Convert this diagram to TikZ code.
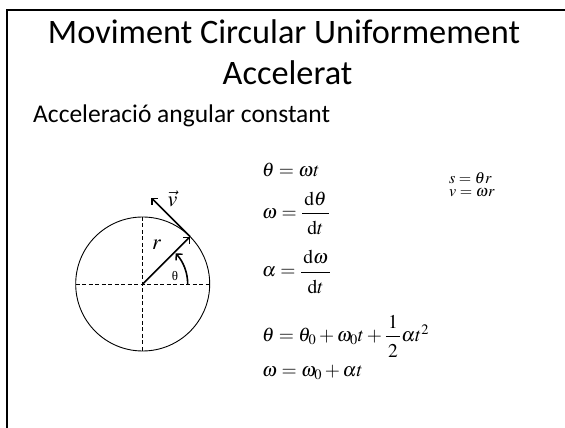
\documentclass[tikz,border=0pt]{standalone}
\usepackage{amsmath}
\usepackage{mathptmx}
\usepackage[no-math]{fontspec}
\setmainfont{Carlito}
\newfontfamily\serifgr{Liberation Serif}
\usetikzlibrary{arrows.meta,calc}
\newcommand{\mtfrac}[2]{\dfrac{\,#1\,}{\,\rule{0pt}{0.95em}#2\,}}
\begin{document}
\begin{tikzpicture}[x=1pt,y=1pt,
  eq/.style={anchor=base west, inner sep=0pt, font=\fontsize{19.5}{22}\selectfont},
  eqsmall/.style={anchor=base west, inner sep=0pt, font=\fontsize{16}{18}\selectfont},
  vecarrow/.style={line width=1.6pt, -{Straight Barb[length=4.5pt,width=9pt,line width=1.4pt]}},
  axisline/.style={line width=0.8pt, dash pattern=on 4pt off 2.5pt}]
\useasboundingbox (0,0) rectangle (565,428);
% frame
\coordinate (fb) at (6.5,0);
\coordinate (fc) at (6.5,418);
\coordinate (fr) at (565,418);
\draw[line width=2pt] (fb) -- (fc) -- (fr);
% titles
\node[anchor=base, inner sep=0pt, font=\fontsize{34.3}{40}\selectfont] (t1) at (284,384.7) {Moviment Circular Uniformement};
\node[anchor=base, inner sep=0pt, font=\fontsize{34.3}{40}\selectfont] (t2) at (287.5,343) {Accelerat};
\node[anchor=base west, inner sep=0pt, font=\fontsize{25.5}{30}\selectfont] (sub) at (33,305.5) {Acceleració angular constant};
% circle
\coordinate (O) at (142.7,144);
\coordinate (L) at (75.7,144);
\coordinate (R) at (209.7,144);
\coordinate (T) at (142.7,211);
\coordinate (B) at (142.7,77);
\draw[line width=0.9pt] (O) circle (67pt);
\draw[axisline] (L) -- (R);
\draw[axisline] (T) -- (B);
\coordinate (P) at ($(O)+(45:67pt)$);
\coordinate (V) at ($(P)+(135:55pt)$);
\draw[vecarrow] (O) -- (P);
\draw[vecarrow] (P) -- (V);
\coordinate (A0) at (187.7,144);
\draw[vecarrow] (A0) arc[start angle=0, end angle=43, radius=45pt];
\node[inner sep=0pt, font=\serifgr\fontsize{13}{14}\selectfont] (th) at (175,151.8) {θ};
\node[inner sep=0pt, font=\fontsize{22}{24}\selectfont] (rl) at (156.7,183) {$r$};
\node[anchor=base, inner sep=0pt, font=\fontsize{22}{24}\selectfont] (vl) at (172.5,221.3) {$\vec{v}$};
% equations
\node[eq] (e1) at (262,251.5) {$\theta = \omega t$};
\node[eq] (e2) at (262,209.7) {$\omega = \mtfrac{\mathrm{d}\theta}{\mathrm{d}t}$};
\node[eq] (e3) at (262,151) {$\alpha = \mtfrac{\mathrm{d}\omega}{\mathrm{d}t}$};
\node[eq] (e4) at (262,86.7) {$\theta = \theta_0 + \omega_0 t + \mtfrac{1}{2}\alpha t^2$};
\node[eq] (e5) at (262,51.3) {$\omega = \omega_0 + \alpha t$};
\node[eqsmall] (e6) at (449,244) {$s = \theta r$};
\node[eqsmall] (e7) at (449,231.3) {$v = \omega r$};
\end{tikzpicture}
\end{document}
